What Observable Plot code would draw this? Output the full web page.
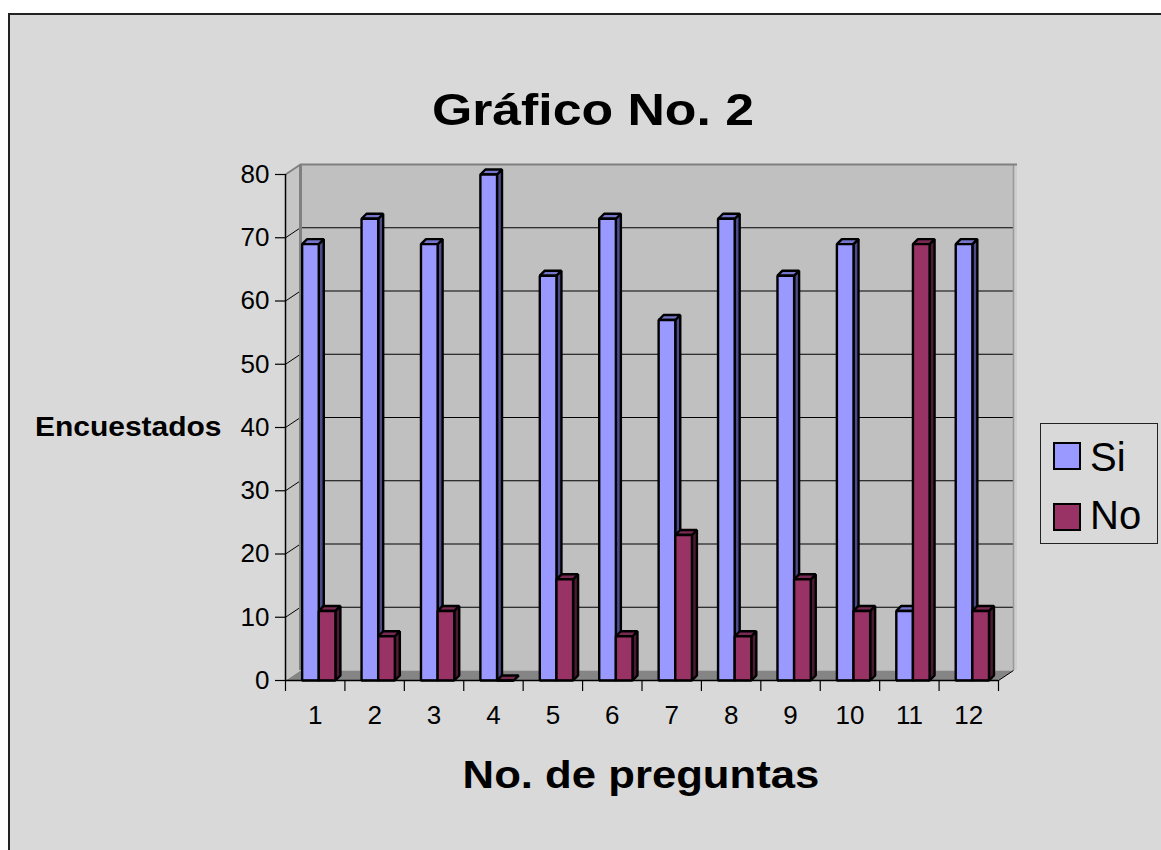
<!DOCTYPE html>
<html><head><meta charset="utf-8">
<script src="https://cdn.jsdelivr.net/npm/d3@7"></script>
<script src="https://cdn.jsdelivr.net/npm/@observablehq/plot@0.6"></script>
<style>
body{margin:0;background:#fff;width:1161px;height:850px;overflow:hidden;position:relative;font-family:"Liberation Sans",Arial,sans-serif;}
#frame{position:absolute;left:8px;top:13px;width:1200px;height:900px;border:2px solid #222;background:#d9d9d9;box-sizing:border-box}
#chart{position:absolute;left:0;top:0}
.lbl{position:absolute;white-space:nowrap;color:#000;line-height:1;font-weight:bold}
#legend{position:absolute;left:1040px;top:423px;width:118px;height:121px;border:1px solid #222;box-sizing:border-box}
.sw{position:absolute;width:28px;height:28px;border:2px solid #000;box-sizing:border-box}
.lt{position:absolute;font-size:40px;line-height:1;color:#000}
</style></head><body>
<div id="frame"></div>
<div id="chart"></div>
<div class="lbl" id="title" style="left:293px;top:87px;width:600px;text-align:center;font-size:45px;transform:scaleX(1.15);transform-origin:center"></div>
<div class="lbl" id="xlabel" style="left:341px;top:755px;width:600px;text-align:center;font-size:39px;transform:scaleX(1.12);transform-origin:center"></div>
<div class="lbl" id="ylabel" style="left:35px;top:414px;font-size:27px;transform:scaleX(1.11);transform-origin:left center"></div>
<div id="legend"></div>
<script>
// ---- data ----
const preguntas = [1,2,3,4,5,6,7,8,9,10,11,12];
const si = [69,73,69,80,64,73,57,73,64,69,11,69];
const no = [11,7,11,0,16,7,23,7,16,11,69,11];
const yTicks = [0,10,20,30,40,50,60,70,80];
const seriesNames = ["Si","No"];
const titleText = "Gráfico No. 2";
const xTitle = "No. de preguntas";
const yTitle = "Encuestados";

// ---- styles ----
const colors = {
  Si: {front:"#9999ff", side:"#4c4c8c", top:"#7575cc"},
  No: {front:"#993366", side:"#4d1a33", top:"#7a2952"}
};

// geometry (pixels)
const W = 1161, H = 850;
const mL = 285, mR = 163, mT = 174, mB = 170;
const ux = (W - mL - mR) / 12;   // px per category
const uy = (H - mT - mB) / 80;   // px per unit
const wallDX = 15 / ux, wallDY = 10 / uy;
const barDX = 5 / ux, barDY = 5 / uy;
const barOff = {Si: [-0.22, 0.06], No: [0.06, 0.34]};
const xMin = 0.5, xMax = 12.5, yMax = 80;

// background polygons
const bg = [];
function poly(arr, id, pts, fill){ pts.forEach(([x,y]) => arr.push({id, x, y, fill})); }
poly(bg, "floor", [[xMin,0],[xMax,0],[xMax+wallDX,wallDY],[xMin+wallDX,wallDY]], "#858585");
poly(bg, "side", [[xMin,0],[xMin+wallDX,wallDY],[xMin+wallDX,yMax+wallDY],[xMin,yMax]], "#c6c6c6");

// bar polygons
const bars = [];
preguntas.forEach((p, i) => {
  const vals = {Si: si[i], No: no[i]};
  seriesNames.forEach(s => {
    const v = vals[s];
    const x1 = p + barOff[s][0], x2 = p + barOff[s][1];
    const c = colors[s];
    poly(bars, `${p}-${s}-side`, [[x2,0],[x2+barDX,barDY],[x2+barDX,v+barDY],[x2,v]], c.side);
    poly(bars, `${p}-${s}-top`, [[x1,v],[x1+barDX,v+barDY],[x2+barDX,v+barDY],[x2,v]], c.top);
    poly(bars, `${p}-${s}-front`, [[x1,0],[x2,0],[x2,v],[x1,v]], c.front);
  });
});

const inner = yTicks.filter(v => v > 0 && v < yMax);
const bounds = d3.range(0, 13).map(k => k + 0.5);

const chart = Plot.plot({
  width: W, height: H,
  marginLeft: mL, marginRight: mR, marginTop: mT, marginBottom: mB,
  x: {domain: [xMin, xMax], label: null},
  y: {domain: [0, yMax], label: null},
  color: {type: "identity"},
  style: {background: "transparent", fontFamily: '"Liberation Sans", Arial, sans-serif', fontSize: "26px", color: "#000", overflow: "visible"},
  marks: [
    // back wall
    Plot.rect([0], {x1: () => xMin + wallDX, x2: () => xMax + wallDX, y1: () => wallDY, y2: () => yMax + wallDY, fill: "#c0c0c0"}),
    Plot.rect([0], {x1: () => xMax + wallDX, x2: () => xMax + wallDX + 4 / ux, y1: () => wallDY, y2: () => yMax + wallDY, fill: "#cdcdcd"}),
    Plot.line(bg, {x: "x", y: "y", z: "id", fill: "fill", stroke: "none", curve: "linear-closed"}),
    // grid on back wall
    Plot.ruleY(inner, {y: v => v + wallDY, x1: () => xMin + wallDX, x2: () => xMax + wallDX, stroke: "#000", strokeWidth: 1}),
    Plot.link(inner, {x1: () => xMin, y1: v => v, x2: () => xMin + wallDX, y2: v => v + wallDY, stroke: "#000", strokeWidth: 1}),
    // wall edges
    Plot.ruleX([xMin + wallDX], {y1: () => wallDY, y2: () => yMax + wallDY, stroke: "#808080", strokeWidth: 3}),
    Plot.ruleX([xMax + wallDX], {y1: () => wallDY, y2: () => yMax + wallDY, stroke: "#999", strokeWidth: 1.5}),
    Plot.ruleY([yMax + wallDY], {x1: () => xMin + wallDX, x2: () => xMax + wallDX + 4 / ux, stroke: "#808080", strokeWidth: 2}),
    Plot.link([yMax], {x1: () => xMin, y1: v => v, x2: () => xMin + wallDX, y2: v => v + wallDY, stroke: "#808080", strokeWidth: 2}),
    Plot.link([0], {x1: () => xMax, y1: () => 0, x2: () => xMax + wallDX, y2: () => wallDY, stroke: "#000", strokeWidth: 1}),
    // bars
    Plot.line(bars, {x: "x", y: "y", z: "id", fill: "fill", stroke: "#000", strokeWidth: 2.4, strokeLinejoin: "miter", curve: "linear-closed"}),
    // axes
    Plot.ruleX([xMin], {y1: () => 0, y2: () => yMax, stroke: "#000", strokeWidth: 1.5}),
    Plot.ruleY([0], {x1: () => xMin, x2: () => xMax, stroke: "#000", strokeWidth: 1.5}),
    Plot.axisY(yTicks, {tickSize: 10, tickPadding: 6, fontSize: 26, strokeWidth: 1.2, label: null}),
    Plot.axisX(bounds, {tickSize: 11, tickFormat: () => "", strokeWidth: 1.2, label: null}),
    Plot.axisX(preguntas, {tickSize: 0, tickPadding: 25, fontSize: 26, label: null})
  ]
});
document.getElementById("chart").appendChild(chart);

document.getElementById("title").textContent = titleText;
document.getElementById("xlabel").textContent = xTitle;
document.getElementById("ylabel").textContent = yTitle;

// legend
const legend = document.getElementById("legend");
seriesNames.forEach((s, k) => {
  const sw = document.createElement("div");
  sw.className = "sw";
  sw.style.left = "12px";
  sw.style.top = (18 + k * 61) + "px";
  sw.style.background = colors[s].front;
  legend.appendChild(sw);
  const t = document.createElement("div");
  t.className = "lt";
  t.style.left = "49px";
  t.style.top = (13 + k * 58) + "px";
  t.textContent = s;
  legend.appendChild(t);
});
</script>
</body></html>
